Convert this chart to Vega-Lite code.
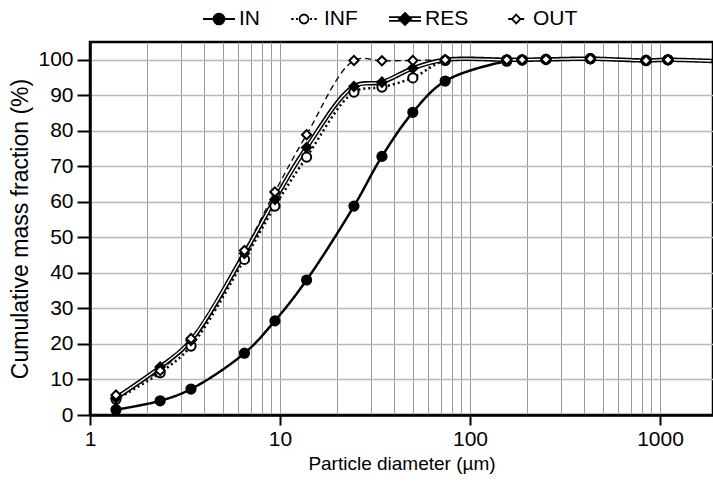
{
  "$schema": "https://vega.github.io/schema/vega-lite/v6.json",
  "width": 623,
  "height": 373,
  "autosize": "none",
  "padding": {"left": 90, "top": 42, "right": 0, "bottom": 68},
  "background": "white",
  "config": {
    "font": "Liberation Sans",
    "view": {"stroke": "black", "strokeWidth": 2.5},
    "axis": {"labelColor": "black", "titleColor": "black", "titleFontWeight": "normal", "domainColor": "black", "domainWidth": 2.5, "tickColor": "black", "tickWidth": 2}
  },
  "data": {
    "values": [
      {"d": 1.37, "s": "IN", "v": 1.5}, {"d": 2.34, "s": "IN", "v": 4.0}, {"d": 3.4, "s": "IN", "v": 7.3}, {"d": 6.5, "s": "IN", "v": 17.4}, {"d": 9.4, "s": "IN", "v": 26.5}, {"d": 13.8, "s": "IN", "v": 38}, {"d": 24.5, "s": "IN", "v": 58.8}, {"d": 34.4, "s": "IN", "v": 72.8}, {"d": 50, "s": "IN", "v": 85.2}, {"d": 74, "s": "IN", "v": 94}, {"d": 156, "s": "IN", "v": 99.6}, {"d": 188, "s": "IN", "v": 99.9}, {"d": 251, "s": "IN", "v": 100.1}, {"d": 430, "s": "IN", "v": 100.3}, {"d": 844, "s": "IN", "v": 99.8}, {"d": 1100, "s": "IN", "v": 100}, {"d": 2000, "s": "IN", "v": 99.6},
      {"d": 1.37, "s": "INF", "v": 4.4}, {"d": 2.34, "s": "INF", "v": 11.9}, {"d": 3.4, "s": "INF", "v": 19.4}, {"d": 6.5, "s": "INF", "v": 43.8}, {"d": 9.4, "s": "INF", "v": 58.8}, {"d": 13.8, "s": "INF", "v": 72.6}, {"d": 24.5, "s": "INF", "v": 90.9}, {"d": 34.4, "s": "INF", "v": 92.3}, {"d": 50, "s": "INF", "v": 94.9}, {"d": 74, "s": "INF", "v": 99.8}, {"d": 156, "s": "INF", "v": 100}, {"d": 188, "s": "INF", "v": 100}, {"d": 251, "s": "INF", "v": 100.1}, {"d": 430, "s": "INF", "v": 100.3}, {"d": 844, "s": "INF", "v": 99.8}, {"d": 1100, "s": "INF", "v": 100}, {"d": 2000, "s": "INF", "v": 99.6},
      {"d": 1.37, "s": "RES", "v": 4.8}, {"d": 2.34, "s": "RES", "v": 13.5}, {"d": 3.4, "s": "RES", "v": 21}, {"d": 6.5, "s": "RES", "v": 45.5}, {"d": 9.4, "s": "RES", "v": 60.7}, {"d": 13.8, "s": "RES", "v": 75.3}, {"d": 24.5, "s": "RES", "v": 92.5}, {"d": 34.4, "s": "RES", "v": 93.7}, {"d": 50, "s": "RES", "v": 97.6}, {"d": 74, "s": "RES", "v": 100}, {"d": 156, "s": "RES", "v": 100}, {"d": 188, "s": "RES", "v": 100}, {"d": 251, "s": "RES", "v": 100.1}, {"d": 430, "s": "RES", "v": 100.3}, {"d": 844, "s": "RES", "v": 99.8}, {"d": 1100, "s": "RES", "v": 100}, {"d": 2000, "s": "RES", "v": 99.6},
      {"d": 1.37, "s": "OUT", "v": 5.6}, {"d": 2.34, "s": "OUT", "v": 12.5}, {"d": 3.4, "s": "OUT", "v": 21.5}, {"d": 6.5, "s": "OUT", "v": 46.3}, {"d": 9.4, "s": "OUT", "v": 62.8}, {"d": 13.8, "s": "OUT", "v": 78.9}, {"d": 24.5, "s": "OUT", "v": 99.8}, {"d": 34.4, "s": "OUT", "v": 99.7}, {"d": 50, "s": "OUT", "v": 99.8}, {"d": 74, "s": "OUT", "v": 100}, {"d": 156, "s": "OUT", "v": 100}, {"d": 188, "s": "OUT", "v": 100}, {"d": 251, "s": "OUT", "v": 100.1}, {"d": 430, "s": "OUT", "v": 100.3}, {"d": 844, "s": "OUT", "v": 99.8}, {"d": 1100, "s": "OUT", "v": 100}, {"d": 2000, "s": "OUT", "v": 99.6}
    ]
  },
  "encoding": {
    "x": {
      "field": "d", "type": "quantitative",
      "scale": {"type": "log", "domain": [1, 1900], "nice": false},
      "axis": {
        "values": [1, 2, 3, 4, 5, 6, 7, 8, 9, 10, 20, 30, 40, 50, 60, 70, 80, 90, 100, 200, 300, 400, 500, 600, 700, 800, 900, 1000],
        "labelExpr": "indexof([1,10,100,1000], datum.value) >= 0 ? datum.value + '' : ''",
        "labelOverlap": false, "labelFlush": false,
        "grid": true, "gridColor": "#9a9a9a", "gridWidth": 1,
        "tickSize": 10,
        "tickOpacity": {"condition": {"test": "indexof([1,10,100,1000], datum.value) < 0", "value": 0}, "value": 1},
        "labelFontSize": 21, "labelPadding": 3,
        "title": "Particle diameter (µm)", "titleFontSize": 19, "titlePadding": 5
      }
    },
    "y": {
      "field": "v", "type": "quantitative",
      "scale": {"domain": [0, 105], "nice": false},
      "axis": {
        "values": [0, 10, 20, 30, 40, 50, 60, 70, 80, 90, 100],
        "grid": true, "gridColor": "#b8b8b8", "gridWidth": 1.5,
        "tickSize": 13, "labelFontSize": 21, "labelPadding": 4,
        "title": "Cumulative mass fraction (%)", "titleFontSize": 23, "titlePadding": 5
      }
    }
  },
  "layer": [
    {
      "mark": {"type": "line", "interpolate": "catmull-rom", "color": "black", "clip": true},
      "encoding": {
        "detail": {"field": "s"},
        "strokeDash": {"condition": [{"test": "datum.s == 'INF'", "value": [2, 3]}, {"test": "datum.s == 'OUT'", "value": [6, 4]}], "value": [1, 0]},
        "strokeWidth": {"condition": [{"test": "datum.s == 'RES'", "value": 4.5}, {"test": "datum.s == 'OUT'", "value": 1.3}], "value": 2.5}
      }
    },
    {
      "transform": [{"filter": "datum.s == 'RES'"}],
      "mark": {"type": "line", "interpolate": "catmull-rom", "color": "white", "strokeWidth": 1.4, "clip": true},
      "encoding": {}
    },
    {
      "mark": {"type": "point", "filled": true, "stroke": "black", "strokeWidth": 2, "opacity": 1, "size": 85, "clip": true},
      "encoding": {
        "shape": {"condition": {"test": "datum.s == 'IN' || datum.s == 'INF'", "value": "circle"}, "value": "diamond"},
        "fill": {"condition": {"test": "datum.s == 'INF' || datum.s == 'OUT'", "value": "white"}, "value": "black"}
      }
    },
    {
      "transform": [{"filter": "false"}],
      "mark": {"type": "point", "filled": true, "strokeWidth": 1.8, "opacity": 1, "clip": true},
      "encoding": {
        "shape": {
          "field": "s", "type": "nominal",
          "scale": {"domain": ["IN", "INF", "RES", "OUT"], "range": [
            "M-1,0H1M-0.34,0A0.34,0.34 0 1,0 0.34,0A0.34,0.34 0 1,0 -0.34,0Z",
            "M-0.8,0H-0.65M-0.5,0H-0.38M0.38,0H0.5M0.65,0H0.8M-0.28,0A0.28,0.28 0 1,0 0.28,0A0.28,0.28 0 1,0 -0.28,0Z",
            "M-1,-0.12H1M-1,0.12H1M0,-0.38L0.38,0L0,0.38L-0.38,0Z",
            "M-0.3,0H-0.08M0.48,0H0.7M0.2,-0.28L0.46,0L0.2,0.28L-0.06,0Z"
          ]},
          "legend": {
            "title": null, "orient": "none", "legendX": 112, "legendY": -40, "direction": "horizontal", "columns": 4,
            "symbolSize": 1024, "symbolStrokeWidth": 1.8, "symbolOpacity": 1,
            "labelOffset": 3, "columnPadding": 27, "labelFontSize": 21, "labelColor": "black", "labelFont": "Liberation Sans"
          }
        },
        "fill": {
          "field": "s", "type": "nominal",
          "scale": {"domain": ["IN", "INF", "RES", "OUT"], "range": ["black", "white", "black", "white"]}
        },
        "stroke": {
          "field": "s", "type": "nominal",
          "scale": {"domain": ["IN", "INF", "RES", "OUT"], "range": ["black", "black", "black", "black"]}
        }
      }
    }
  ]
}
